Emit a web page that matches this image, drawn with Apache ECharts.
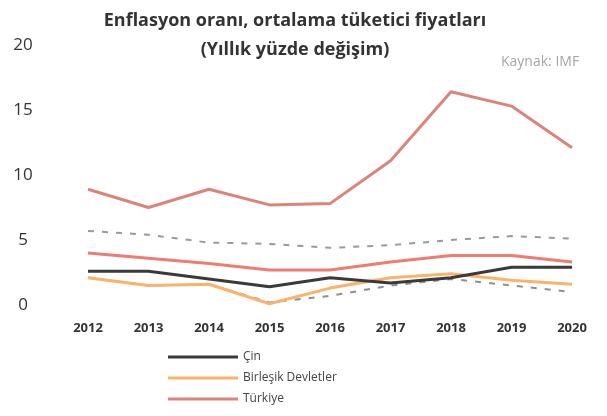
<!DOCTYPE html>
<html><head><meta charset="utf-8">
<script src="https://cdn.jsdelivr.net/npm/echarts@6/dist/echarts.min.js"></script>
<style>html,body{margin:0;padding:0;background:#fff}#c{width:607px;height:416px}</style>
</head><body><div id="c"></div>
<script>
const years = ['2012','2013','2014','2015','2016','2017','2018','2019','2020'];
const yTicks = [0, 5, 10, 15, 20];
const cin = [2.6, 2.6, 2.0, 1.4, 2.1, 1.7, 2.1, 2.9, 2.9];
const abd = [2.1, 1.5, 1.6, 0.1, 1.3, 2.1, 2.4, 1.9, 1.6];
const turkiye = [8.9, 7.5, 8.9, 7.7, 7.8, 11.1, 16.4, 15.3, 12.1];
const dunya = [4.0, 3.6, 3.2, 2.7, 2.7, 3.3, 3.8, 3.8, 3.3];
const gelismekte = [5.7, 5.4, 4.8, 4.7, 4.4, 4.6, 5.0, 5.3, 5.1];
const gelismis = [2.1, 1.5, 1.6, 0.2, 0.7, 1.5, 2.0, 1.5, 1.0];
const legendNames = ['Çin', 'Birleşik Devletler', 'Türkiye'];

const chart = echarts.init(document.getElementById('c'));
const font = 'Open Sans';
function line(name, data, color, width, dashed, z) {
  return { name, type: 'line', data, symbol: 'none', z: z,
    lineStyle: { color, width, type: dashed ? [6, 8] : 'solid' },
    itemStyle: { color } };
}
chart.setOption({
  animation: false,
  title: [
    { text: 'Enflasyon oranı, ortalama tüketici fiyatları\n(Yıllık yüzde değişim)',
      left: 290, top: 1, textAlign: 'center',
      textStyle: { fontFamily: font, fontWeight: 'bold', fontSize: 18, color: '#333', lineHeight: 29 } },
    { text: 'Kaynak: IMF', left: 496, top: 50,
      textStyle: { fontFamily: font, fontWeight: 'normal', fontSize: 14, color: '#a6a6a6' } }
  ],
  legend: {
    data: legendNames, orient: 'vertical', left: 163, top: 346, itemGap: 9,
    itemWidth: 70, itemHeight: 3, icon: 'rect',
    textStyle: { fontFamily: font, fontSize: 12, color: '#444' }
  },
  grid: { left: 88, right: 35, top: 45, bottom: 111, containLabel: false },
  xAxis: { type: 'category', data: years, boundaryGap: false,
    axisLine: { show: false }, axisTick: { show: false },
    axisLabel: { margin: 17, fontFamily: font, fontSize: 13, fontWeight: 'bold', color: '#333' } },
  yAxis: { type: 'value', min: yTicks[0], max: yTicks[yTicks.length - 1], interval: 5,
    splitLine: { show: false }, axisLine: { show: false }, axisTick: { show: false },
    axisLabel: { margin: 65, align: 'center', fontFamily: font, fontSize: 17, color: '#333' } },
  series: [
    line('Gelişmekte olan', gelismekte, '#9a9a9a', 2, true, 1),
    line('Dünya', dunya, '#ee7c70', 3, false, 2),
    line('Gelişmiş', gelismis, '#8a8f98', 2, true, 1),
    line('Birleşik Devletler', abd, '#fbb26a', 3, false, 3),
    line('Çin', cin, '#3a3a3a', 3, false, 4),
    line('Türkiye', turkiye, '#dd8379', 3, false, 5)
  ]
});
</script></body></html>
